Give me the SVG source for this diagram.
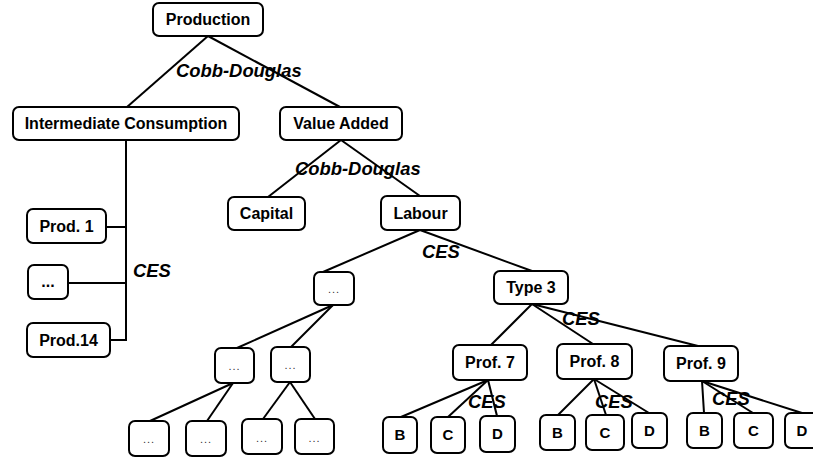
<svg xmlns="http://www.w3.org/2000/svg" width="813" height="459" viewBox="0 0 813 459">
<style>
.n rect{fill:#fff;stroke:#000;stroke-width:2}
.n text{font-family:"Liberation Sans",Arial,sans-serif;font-weight:bold;font-size:16px;text-anchor:middle;fill:#000}
.n text.dots{font-weight:normal;font-size:11px;fill:#333;letter-spacing:1px}
.n text.leaf{font-size:15px}
#connectors line{stroke:#000;stroke-width:2}
.lbl{font-family:"Liberation Sans",Arial,sans-serif;font-weight:bold;font-style:italic;font-size:18.4px;fill:#000}
</style>
<g id="connectors">
<line x1="208" y1="36" x2="127" y2="107"/>
<line x1="208" y1="36" x2="340" y2="107"/>
<line x1="341" y1="140" x2="268" y2="197"/>
<line x1="341" y1="140" x2="420" y2="196"/>
<line x1="126" y1="140" x2="126" y2="341"/>
<line x1="106" y1="227" x2="126" y2="227"/>
<line x1="68" y1="283" x2="126" y2="283"/>
<line x1="110" y1="340" x2="127" y2="340"/>
<line x1="420" y1="230" x2="323" y2="272"/>
<line x1="420" y1="230" x2="532" y2="271"/>
<line x1="333" y1="305" x2="237" y2="348"/>
<line x1="333" y1="305" x2="291" y2="347"/>
<line x1="233" y1="383" x2="150" y2="421"/>
<line x1="233" y1="383" x2="207" y2="421"/>
<line x1="290" y1="382" x2="263" y2="419"/>
<line x1="290" y1="382" x2="315" y2="419"/>
<line x1="532" y1="304" x2="491" y2="345"/>
<line x1="532" y1="304" x2="593" y2="344"/>
<line x1="532" y1="304" x2="698" y2="346"/>
<line x1="488" y1="380" x2="401" y2="417"/>
<line x1="488" y1="380" x2="448" y2="417"/>
<line x1="488" y1="380" x2="497" y2="416"/>
<line x1="594" y1="379" x2="558" y2="415"/>
<line x1="594" y1="379" x2="606" y2="415"/>
<line x1="594" y1="379" x2="649" y2="413"/>
<line x1="702" y1="381" x2="704" y2="413"/>
<line x1="702" y1="381" x2="753" y2="413"/>
<line x1="702" y1="381" x2="802" y2="413"/>
</g>
<g id="production" class="n"><rect x="153" y="3" width="110" height="33" rx="6"/><text x="208" y="25">Production</text></g>
<g id="intermediate" class="n"><rect x="13" y="107" width="226" height="33" rx="6"/><text x="126" y="129">Intermediate Consumption</text></g>
<g id="valueadded" class="n"><rect x="280" y="107" width="122" height="33" rx="6"/><text x="341" y="129">Value Added</text></g>
<g id="capital" class="n"><rect x="228" y="197" width="77" height="33" rx="6"/><text x="266.5" y="219">Capital</text></g>
<g id="labour" class="n"><rect x="381" y="196" width="79" height="34" rx="6"/><text x="420.5" y="218.5">Labour</text></g>
<g id="prod1" class="n"><rect x="27" y="209" width="79" height="34" rx="6"/><text x="66.5" y="231.5">Prod. 1</text></g>
<g id="proddots" class="n"><rect x="28" y="265" width="40" height="34" rx="6"/><text x="48" y="287">...</text></g>
<g id="prod14" class="n"><rect x="27" y="323" width="83" height="34" rx="6"/><text x="68.5" y="345.5">Prod.14</text></g>
<g id="type-dots" class="n"><rect x="314" y="272" width="40" height="33" rx="6"/><text class="dots" x="334" y="293">...</text></g>
<g id="sub-dots-1" class="n"><rect x="215" y="348" width="39" height="35" rx="6"/><text class="dots" x="234.5" y="370">...</text></g>
<g id="sub-dots-2" class="n"><rect x="271" y="347" width="39" height="35" rx="6"/><text class="dots" x="290.5" y="369">...</text></g>
<g id="leaf-dots-1" class="n"><rect x="129" y="421" width="40" height="35" rx="6"/><text class="dots" x="149" y="443">...</text></g>
<g id="leaf-dots-2" class="n"><rect x="186" y="421" width="40" height="35" rx="6"/><text class="dots" x="206" y="443">...</text></g>
<g id="leaf-dots-3" class="n"><rect x="242" y="419" width="40" height="35" rx="6"/><text class="dots" x="262" y="442">...</text></g>
<g id="leaf-dots-4" class="n"><rect x="295" y="419" width="39" height="35" rx="6"/><text class="dots" x="314.5" y="442">...</text></g>
<g id="type3" class="n"><rect x="494" y="271" width="74" height="33" rx="6"/><text x="531" y="293">Type 3</text></g>
<g id="prof7" class="n"><rect x="453" y="345" width="74" height="35" rx="6"/><text x="490" y="368">Prof. 7</text></g>
<g id="prof8" class="n"><rect x="557" y="344" width="75" height="35" rx="6"/><text x="594.5" y="367">Prof. 8</text></g>
<g id="prof9" class="n"><rect x="664" y="346" width="74" height="35" rx="6"/><text x="701" y="369">Prof. 9</text></g>
<g id="b7" class="n"><rect x="383" y="417" width="34" height="36" rx="6"/><text class="leaf" x="400" y="440">B</text></g>
<g id="c7" class="n"><rect x="431" y="417" width="34" height="36" rx="6"/><text class="leaf" x="448" y="440">C</text></g>
<g id="d7" class="n"><rect x="480" y="416" width="35" height="36" rx="6"/><text class="leaf" x="497.5" y="439">D</text></g>
<g id="b8" class="n"><rect x="540" y="415" width="35" height="35" rx="6"/><text class="leaf" x="557.5" y="438">B</text></g>
<g id="c8" class="n"><rect x="586" y="415" width="38" height="35" rx="6"/><text class="leaf" x="605" y="438">C</text></g>
<g id="d8" class="n"><rect x="632" y="413" width="35" height="35" rx="6"/><text class="leaf" x="649.5" y="436">D</text></g>
<g id="b9" class="n"><rect x="687" y="413" width="35" height="35" rx="6"/><text class="leaf" x="704.5" y="436">B</text></g>
<g id="c9" class="n"><rect x="734" y="413" width="39" height="35" rx="6"/><text class="leaf" x="753.5" y="436">C</text></g>
<g id="d9" class="n"><rect x="785" y="413" width="35" height="35" rx="6"/><text class="leaf" x="802" y="436">D</text></g>
<g id="labels">
<text class="lbl" x="176" y="77">Cobb-Douglas</text>
<text class="lbl" x="295" y="175">Cobb-Douglas</text>
<text class="lbl" x="133" y="277">CES</text>
<text class="lbl" x="422" y="258">CES</text>
<text class="lbl" x="562" y="325">CES</text>
<text class="lbl" x="468" y="408">CES</text>
<text class="lbl" x="595" y="408">CES</text>
<text class="lbl" x="712" y="405">CES</text>
</g>
</svg>
